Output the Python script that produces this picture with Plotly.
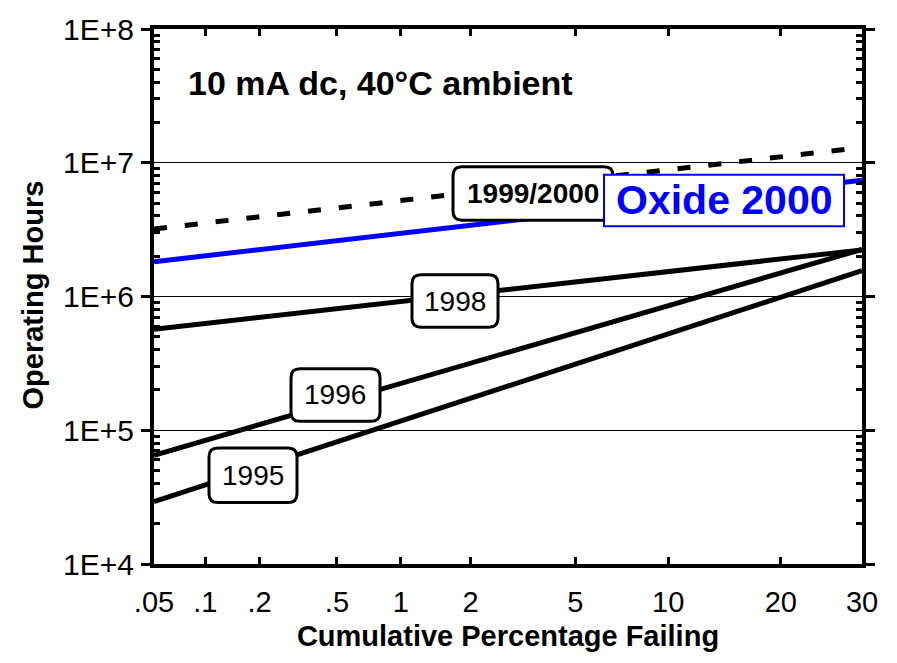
import plotly.graph_objects as go
from statistics import NormalDist

# ---------------- data ----------------
pct_ends = [0.05, 30]                      # cumulative % failing (line endpoints)
hours_1995 = [2.93e4, 1.56e6]
hours_1996 = [6.5e4, 2.25e6]
hours_1998 = [5.7e5, 2.23e6]
hours_1999_2000 = [3.2e6, 1.3e7]
hours_oxide_2000 = [1.82e6, 7.4e6]

x_tick_pct = [0.05, 0.1, 0.2, 0.5, 1, 2, 5, 10, 20, 30]
x_tick_text = [".05", ".1", ".2", ".5", "1", "2", "5", "10", "20", "30"]
y_tick_vals = [1e4, 1e5, 1e6, 1e7, 1e8]
y_tick_text = ["1E+4", "1E+5", "1E+6", "1E+7", "1E+8"]
y_minor_vals = [m * d for d in (1e4, 1e5, 1e6, 1e7) for m in range(2, 10)]

# ---------------- helpers ----------------
nd = NormalDist()


def zq(p):
    """normal-probability scale transform of a percentage"""
    return nd.inv_cdf(p / 100.0)


FONT = "Liberation Sans, Arial, sans-serif"
BLUE = "#0000ff"
W, H = 897, 663
ML, MR, MT, MB = 154, 35, 24, 99
PW, PH = W - ML - MR, H - MT - MB


def px(x):
    return (x - ML) / PW


def py(y):
    return (H - MB - y) / PH


def rrect_path(x0, y0, x1, y1, r=9):
    pts = [
        ("M", (x0 + r, y0)),
        ("L", (x1 - r, y0)),
        ("Q", (x1, y0), (x1, y0 + r)),
        ("L", (x1, y1 - r)),
        ("Q", (x1, y1), (x1 - r, y1)),
        ("L", (x0 + r, y1)),
        ("Q", (x0, y1), (x0, y1 - r)),
        ("L", (x0, y0 + r)),
        ("Q", (x0, y0), (x0 + r, y0)),
    ]
    s = ""
    for cmd, *ps in pts:
        s += cmd + " " + " ".join(f"{px(a):.5f},{py(b):.5f}" for a, b in ps) + " "
    return s + "Z"


xz = [zq(p) for p in pct_ends]

fig = go.Figure()
for hrs in (hours_1995, hours_1996, hours_1998):
    fig.add_trace(go.Scatter(x=xz, y=hrs, mode="lines",
                             line=dict(color="black", width=5), showlegend=False))
fig.add_trace(go.Scatter(x=xz, y=hours_1999_2000, mode="lines",
                         line=dict(color="black", width=5, dash="13px,18px"),
                         showlegend=False))
fig.add_trace(go.Scatter(x=xz, y=hours_oxide_2000, mode="lines",
                         line=dict(color=BLUE, width=5), showlegend=False))

shapes = []
boxes = [
    (453, 163, 613, 217),   # 1999/2000
    (412, 272, 498, 325),   # 1998
    (291, 367, 380, 420),   # 1996
    (209, 447, 297, 502),   # 1995
]
for b in boxes:
    shapes.append(dict(type="path", xref="paper", yref="paper",
                       path=rrect_path(*b), fillcolor="white",
                       line=dict(color="black", width=3), layer="above"))
shapes.append(dict(type="rect", xref="paper", yref="paper",
                   x0=px(604), x1=px(844), y0=py(223), y1=py(171),
                   fillcolor="white", line=dict(color=BLUE, width=2),
                   layer="above"))

annotations = [
    dict(text="<b>10 mA dc, 40°C ambient</b>", x=px(186), y=py(79),
         xanchor="left", yanchor="middle", font=dict(size=34)),
    dict(text="<b>1999/2000</b>", x=px(533), y=py(190), font=dict(size=28)),
    dict(text="<b>Oxide 2000</b>", x=px(724), y=py(197),
         font=dict(size=41, color=BLUE)),
    dict(text="1998", x=px(455), y=py(299), font=dict(size=28)),
    dict(text="1996", x=px(335), y=py(393), font=dict(size=28)),
    dict(text="1995", x=px(253), y=py(475), font=dict(size=28)),
    dict(text="<b>Operating Hours</b>", x=px(33), y=py(293), textangle=-90,
         font=dict(size=29)),
]
for a in annotations:
    a.update(xref="paper", yref="paper", showarrow=False)
    a.setdefault("xanchor", "center")
    a.setdefault("yanchor", "middle")
    a["font"].setdefault("family", FONT)
    a["font"].setdefault("color", "black")

fig.update_layout(
    width=W, height=H, autosize=False,
    margin=dict(l=ML, r=MR, t=MT, b=MB, pad=0),
    paper_bgcolor="white", plot_bgcolor="white",
    font=dict(family=FONT, color="black"),
    shapes=shapes, annotations=annotations,
    xaxis=dict(
        range=[zq(0.05), zq(30)],
        tickvals=[zq(p) for p in x_tick_pct], ticktext=x_tick_text,
        ticks="inside", ticklen=7, tickwidth=3, tickcolor="black",
        showline=True, linewidth=4, linecolor="black", mirror="allticks",
        showgrid=False, zeroline=False,
        tickfont=dict(size=29), ticklabelstandoff=9,
        title=dict(text="<b>Cumulative Percentage Failing</b>",
                   font=dict(size=29), standoff=10),
    ),
    yaxis=dict(
        type="log", range=[4, 8],
        tickvals=y_tick_vals, ticktext=y_tick_text,
        ticks="outside", ticklen=9, tickwidth=3, tickcolor="black",
        minor=dict(tickvals=y_minor_vals, ticks="inside", ticklen=6,
                   tickwidth=3, tickcolor="black", showgrid=False),
        showline=True, linewidth=4, linecolor="black", mirror="allticks",
        showgrid=True, gridcolor="black", gridwidth=1,
        zeroline=False,
        tickfont=dict(size=30), ticklabelstandoff=1,
    ),
)

fig.write_html("out.html")
